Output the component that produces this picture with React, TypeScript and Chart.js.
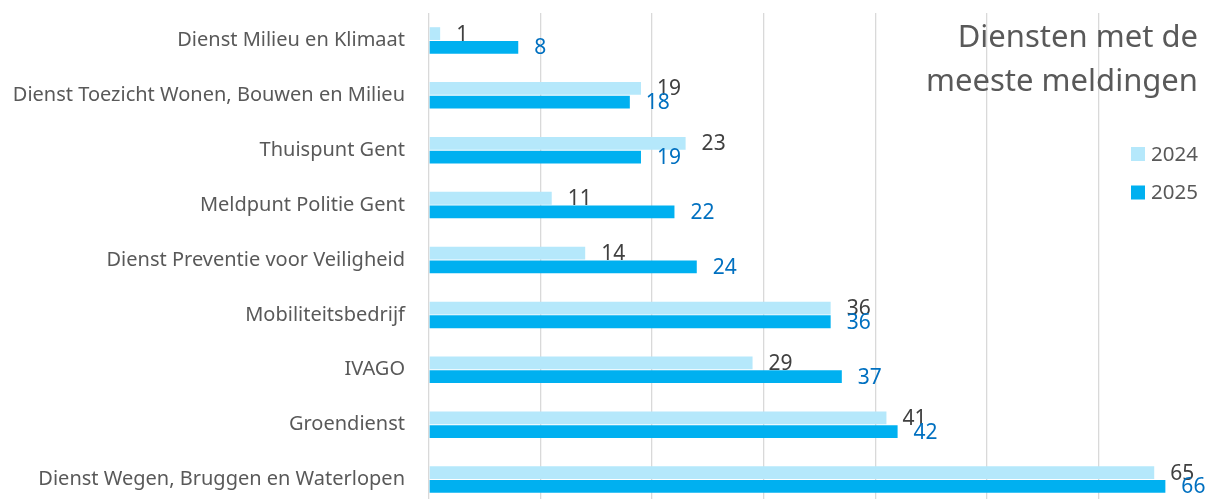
import React, { useEffect, useRef } from "react";
import { Chart, registerables } from "chart.js";

Chart.register(...registerables);

const categories = [
  "Dienst Milieu en Klimaat",
  "Dienst Toezicht Wonen, Bouwen en Milieu",
  "Thuispunt Gent",
  "Meldpunt Politie Gent",
  "Dienst Preventie voor Veiligheid",
  "Mobiliteitsbedrijf",
  "IVAGO",
  "Groendienst",
  "Dienst Wegen, Bruggen en Waterlopen",
];
const values2024 = [1, 19, 23, 11, 14, 36, 29, 41, 65];
const values2025 = [8, 18, 19, 22, 24, 36, 37, 42, 66];
const seriesNames = ["2024", "2025"];
const titleLines = ["Diensten met de", "meeste meldingen"];

const FONT = "'Noto Sans', sans-serif";
const COLORS = ["#B5E8FB", "#00B0F0"];
const LABEL_COLORS = ["#404040", "#0070C0"];

const overlayPlugin = {
  id: "overlay",
  afterDatasetsDraw(chart: any) {
    const ctx = chart.ctx;
    ctx.save();
    ctx.font = `21px ${FONT}`;
    ctx.textAlign = "left";
    ctx.textBaseline = "middle";
    chart.data.datasets.forEach((ds: any, di: number) => {
      const meta = chart.getDatasetMeta(di);
      meta.data.forEach((el: any, i: number) => {
        ctx.fillStyle = LABEL_COLORS[di];
        ctx.fillText(String(ds.data[i]), el.x + 16, el.y + 1);
      });
    });
    ctx.restore();
  },
  afterDraw(chart: any) {
    const ctx = chart.ctx;
    ctx.save();
    ctx.fillStyle = "#595959";
    ctx.font = `31px ${FONT}`;
    ctx.textAlign = "right";
    ctx.textBaseline = "alphabetic";
    ctx.fillText(titleLines[0], 1198, 47);
    ctx.fillText(titleLines[1], 1198, 91);
    // legend
    ctx.font = `20.5px ${FONT}`;
    ctx.textAlign = "left";
    ctx.textBaseline = "middle";
    const ys = [154, 192.5];
    seriesNames.forEach((n, i) => {
      ctx.fillStyle = COLORS[i];
      ctx.fillRect(1131, ys[i] - 7, 14, 14);
      ctx.fillStyle = "#595959";
      ctx.fillText(n, 1151, ys[i] + 1);
    });
    ctx.restore();
  },
};

export default function App() {
  const ref = useRef<HTMLCanvasElement | null>(null);
  useEffect(() => {
    if (!ref.current) return;
    const chart = new Chart(ref.current, {
      type: "bar",
      data: {
        labels: categories,
        datasets: [
          {
            label: seriesNames[0],
            data: values2024,
            backgroundColor: COLORS[0],
            categoryPercentage: 0.5,
            barPercentage: 0.93,
          },
          {
            label: seriesNames[1],
            data: values2025,
            backgroundColor: COLORS[1],
            categoryPercentage: 0.5,
            barPercentage: 0.93,
          },
        ],
      },
      options: {
        indexAxis: "y",
        responsive: false,
        animation: false,
        layout: { padding: { top: 13, right: 0, bottom: 0, left: 0 } },
        plugins: {
          legend: { display: false },
          title: { display: false },
          tooltip: { enabled: false },
        },
        scales: {
          x: {
            min: 0,
            max: 70,
            ticks: { display: false, stepSize: 10 },
            grid: { color: "#D9D9D9", lineWidth: 1.3, drawTicks: false },
            border: { display: false },
            afterFit(scale: any) {
              scale.height = 0;
              scale.paddingLeft = 0;
              scale.paddingRight = 0;
            },
          },
          y: {
            grid: { display: false, drawTicks: false },
            border: { display: false },
            ticks: {
              color: "#595959",
              font: { family: "Noto Sans", size: 20 },
              padding: 24,
            },
            afterFit(scale: any) {
              scale.width = 429;
              scale.paddingTop = 0;
              scale.paddingBottom = 0;
            },
          },
        },
      },
      plugins: [overlayPlugin],
    });
    return () => chart.destroy();
  }, []);
  return (
    <div
      style={{
        position: "absolute",
        left: 0,
        top: 0,
        width: 1205,
        height: 499,
        overflow: "hidden",
        background: "#fff",
      }}
    >
      <canvas ref={ref} width={1210} height={507} />
    </div>
  );
}
